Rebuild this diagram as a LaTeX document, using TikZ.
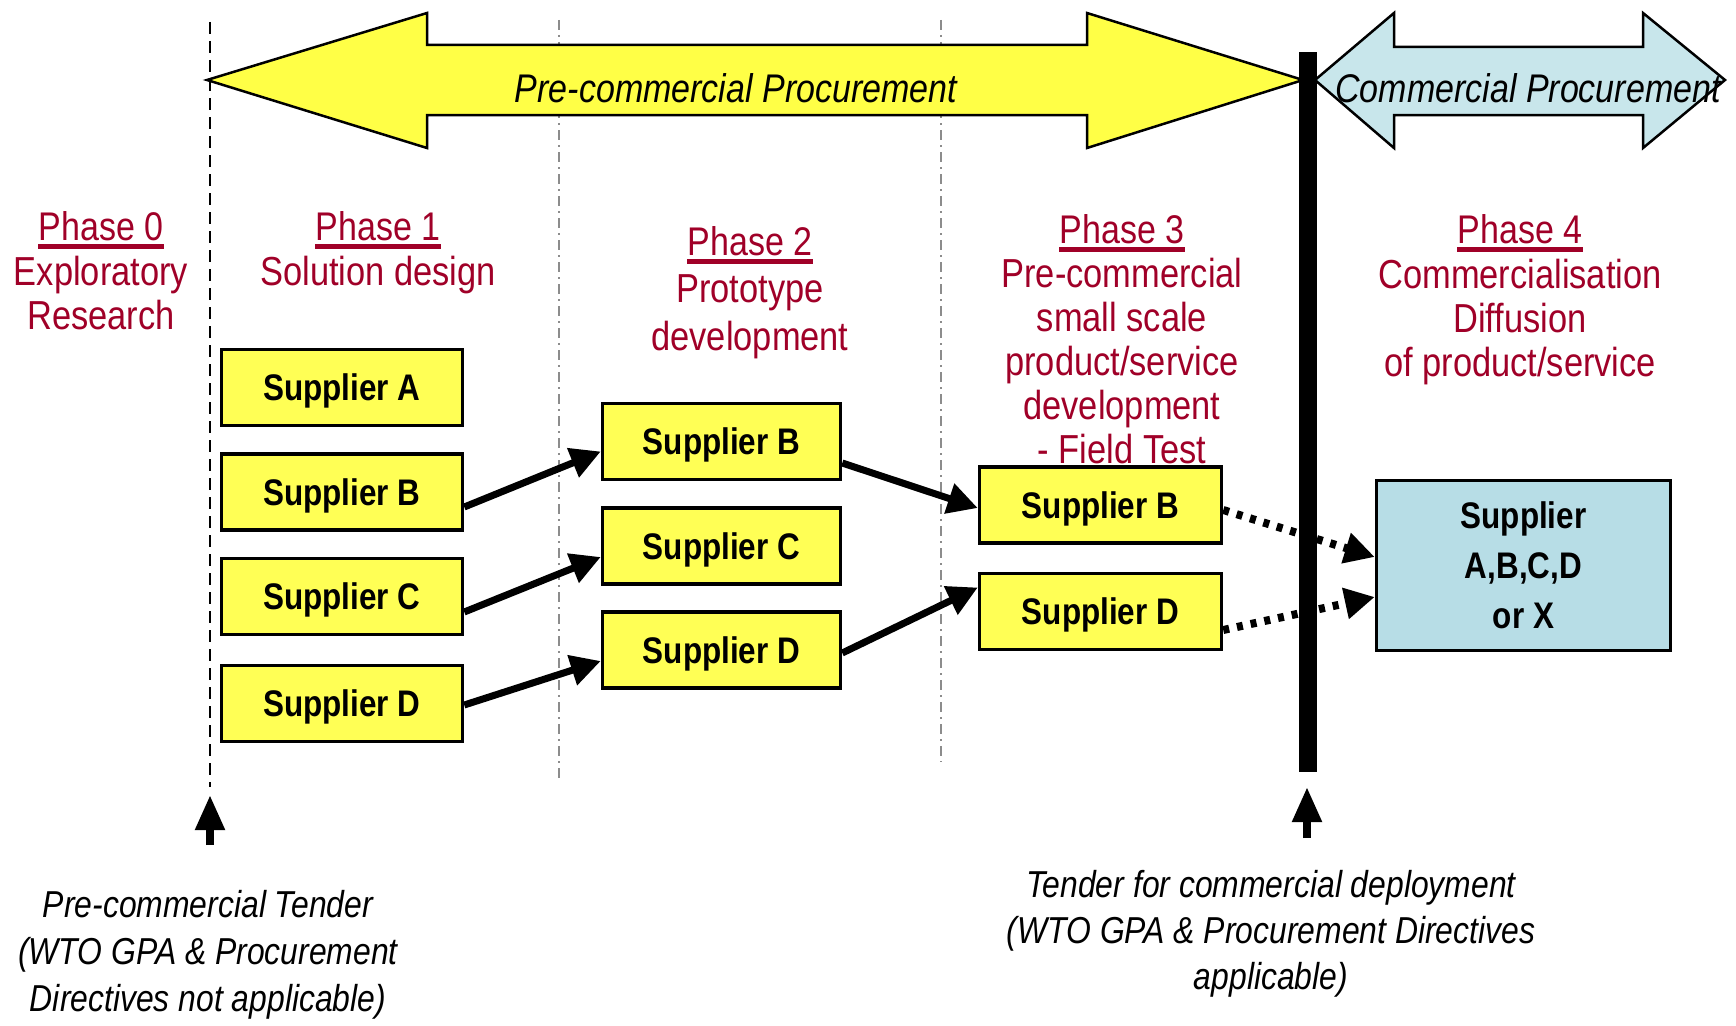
\documentclass[tikz,border=0pt]{standalone}
\usepackage{fontspec}
\setmainfont{Liberation Sans}[FakeStretch=0.85]
\usetikzlibrary{arrows.meta,calc}
\definecolor{phred}{RGB}{160,0,40}
\definecolor{boxyellow}{RGB}{255,255,85}
\definecolor{arryellow}{RGB}{255,255,70}
\definecolor{boxcyan}{RGB}{183,221,230}
\definecolor{arrcyan}{RGB}{200,230,235}
\begin{document}
\begin{tikzpicture}[x=1pt,y=-1pt,
  phasehead/.style={anchor=base, inner sep=0pt, text=phred, font=\fontsize{40}{44}\selectfont},
  phasebody/.style={anchor=base, inner sep=0pt, text=phred, align=center, font=\fontsize{40.5}{44}\selectfont},
  ul/.style={draw=phred, line width=4.5pt},
  supbox/.style={draw=black, line width=3.5pt, fill=boxyellow, font=\bfseries\fontsize{37}{44}\selectfont, text height=26.5pt, text depth=0pt, inner sep=0pt, minimum height=76pt},
  colA/.style={supbox, minimum width=241pt},
  colB/.style={supbox, minimum width=238pt},
  colC/.style={supbox, minimum width=242pt},
  flow/.style={line width=7pt, -{Triangle[length=30pt,width=30pt]}},
  dotflow/.style={line width=8pt, dash pattern=on 6pt off 8pt, -{Triangle[length=30pt,width=30pt]}},
  tender/.style={line width=8pt, -{Triangle[length=35pt,width=28pt]}},
  dlA/.style={black, line width=1.6pt, dash pattern=on 12pt off 7pt},
  dlB/.style={black!45, line width=1.6pt, dash pattern=on 10pt off 5pt on 2pt off 5pt},
  bigarrow/.style={line width=2.5pt, line join=miter},
  titletext/.style={anchor=base, inner sep=0pt, font=\itshape\fontsize{40}{44}\selectfont},
  bottomtext/.style={anchor=base, inner sep=0pt, align=center, font=\itshape\fontsize{37.5}{47}\selectfont}
]
\useasboundingbox[fill=white] (0,0) rectangle (1736,1025);

% dashed phase separators
\draw[dlA] (210,22) -- (210,787);
\draw[dlB] (559,20) -- (559,782);
\draw[dlB] (941,20) -- (941,762);

% big arrows
\draw[bigarrow, fill=arryellow] (207,80) -- (427,13) -- (427,45) -- (1087,45) -- (1087,13) -- (1303,80)
  -- (1087,148) -- (1087,115) -- (427,115) -- (427,148) -- cycle;
\draw[bigarrow, fill=arrcyan] (1315,80) -- (1394,13) -- (1394,47) -- (1643,47) -- (1643,13) -- (1725,80)
  -- (1643,148) -- (1643,115) -- (1394,115) -- (1394,148) -- cycle;
\node[titletext] (pcp) at (736,102) {Pre-commercial Procurement};
\node[titletext] (cp) at (1528,102) {Commercial Procurement};

% black bar
\fill[black] (1299,52) rectangle (1317,772);

% phase labels (body nodes are placed at the baseline of their last line)
\node[phasehead] (p0h) at (101,240) {Phase 0};
\node[phasebody] (p0b) at (101,329) {Exploratory\\Research};
\node[phasehead] (p1h) at (378,240) {Phase 1};
\node[phasebody] (p1b) at (378,285) {Solution design};
\node[phasehead] (p2h) at (750,255) {Phase 2};
\node[phasebody, font=\fontsize{40.5}{48}\selectfont] (p2b) at (750,350) {Prototype\\development};
\node[phasehead] (p3h) at (1122,243) {Phase 3};
\node[phasebody] (p3b) at (1122,463) {Pre-commercial\\small scale\\product/service\\development\\- Field Test};
\node[phasehead] (p4h) at (1520,243) {Phase 4};
\node[phasebody] (p4b) at (1520,376) {Commercialisation\\Diffusion\\of product/service};
\foreach \n in {p0h,p1h,p2h,p3h,p4h}
  \draw[ul] ([yshift=-6.5pt]\n.base west) -- ([yshift=-6.5pt]\n.base east);

% supplier boxes
\node[colA] (a1) at (342,387.5) {Supplier A};
\node[colA] (b1) at (342,492) {Supplier B};
\node[colA] (c1) at (342,596.5) {Supplier C};
\node[colA] (d1) at (342,703.5) {Supplier D};
\node[colB] (b2) at (721.5,441.5) {Supplier B};
\node[colB] (c2) at (721.5,546) {Supplier C};
\node[colB] (d2) at (721.5,650) {Supplier D};
\node[colC] (b3) at (1100.5,505) {Supplier B};
\node[colC] (d3) at (1100.5,611.5) {Supplier D};
\node[draw=black, line width=3.5pt, fill=boxcyan, minimum width=294pt, minimum height=170pt,
      align=center, inner sep=0pt, font=\bfseries\fontsize{37}{50}\selectfont] (x4) at (1523.5,565.5)
      {Supplier\\A,B,C,D\\or X};

% flows
\draw[flow] ([yshift=-15pt]b1.east) -- ([yshift=-10pt]b2.west);
\draw[flow] ([yshift=-15.5pt]c1.east) -- ([yshift=-11pt]c2.west);
\draw[flow] ([yshift=-1.5pt]d1.east) -- ([yshift=-11pt]d2.west);
\draw[flow] ([yshift=-21.5pt]b2.east) -- ([yshift=-3pt]b3.west);
\draw[flow] ([yshift=-3pt]d2.east) -- ([yshift=24pt]d3.west);
\draw[dotflow] ([yshift=-5pt]b3.east) -- ([yshift=8.5pt]x4.west);
\draw[dotflow] ([yshift=-18.5pt]d3.east) -- ([yshift=-31.5pt]x4.west);

% tenders
\coordinate (t1s) at (210,845);
\coordinate (t1e) at (210,795);
\coordinate (t2s) at (1307,838);
\coordinate (t2e) at (1307,787);
\draw[tender] (t1s) -- (t1e);
\draw[tender] (t2s) -- (t2e);
\node[bottomtext] (tl) at (208,1011) {Pre-commercial Tender\\(WTO GPA \& Procurement\\Directives not applicable)};
\node[bottomtext, font=\itshape\fontsize{37.5}{46}\selectfont] (tr) at (1271,989) {Tender for commercial deployment\\(WTO GPA \& Procurement Directives\\applicable)};
\end{tikzpicture}
\end{document}
